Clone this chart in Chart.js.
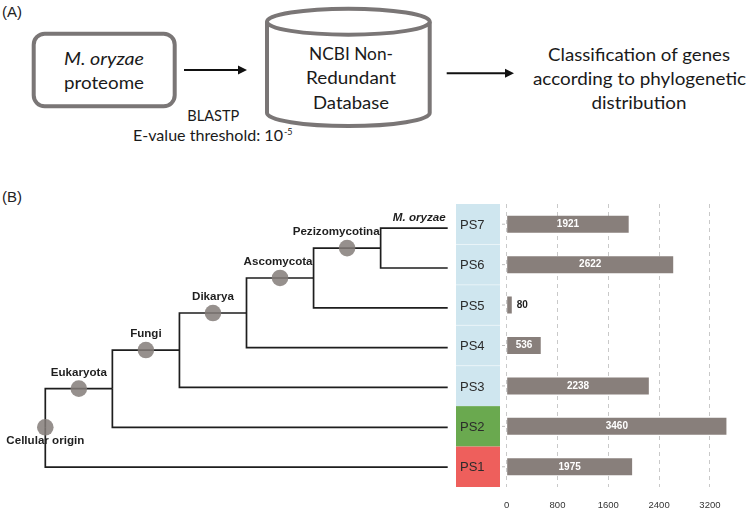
<!DOCTYPE html>
<html>
<head>
<meta charset="utf-8">
<script src="https://cdn.jsdelivr.net/npm/chart.js@4/dist/chart.umd.min.js"></script>
<style>
  body { margin: 0; background: #fff; width: 750px; height: 513px; position: relative; overflow: hidden; }
  #flow { position: absolute; left: 0; top: 0; }
  #treeChart { position: absolute; left: 0; top: 200px; }
  #barChart { position: absolute; left: 456px; top: 200px; }
  .tag { position: absolute; left: 2px; font: 15px "Liberation Sans", Arial, sans-serif; color: #222; }
</style>
</head>
<body>
<div class="tag" style="top:3px">(A)</div>
<div class="tag" style="top:188px">(B)</div>

<svg id="flow" width="750" height="180" font-family="Lato, 'Open Sans', sans-serif" fill="#1a1a1a" font-size="18">
  <!-- proteome box -->
  <rect x="33.7" y="33.7" width="141" height="72.6" rx="11" fill="#fff" stroke="#7a7676" stroke-width="4"/>
  <text x="104" y="65" text-anchor="middle" font-style="italic" textLength="80" lengthAdjust="spacingAndGlyphs">M. oryzae</text>
  <text x="104" y="89" text-anchor="middle" textLength="80" lengthAdjust="spacingAndGlyphs">proteome</text>

  <!-- arrow 1 -->
  <line x1="184" y1="70" x2="240" y2="70" stroke="#111" stroke-width="2"/>
  <polygon points="238,65.5 247,70 238,74.5" fill="#111"/>
  <text x="213.3" y="120.5" text-anchor="middle" font-size="15" textLength="52" lengthAdjust="spacingAndGlyphs">BLASTP</text>
  <text x="133" y="141" font-size="15" textLength="150" lengthAdjust="spacingAndGlyphs">E-value threshold: 10</text>
  <text x="284" y="134.5" font-size="9">-5</text>

  <!-- database cylinder -->
  <path d="M267,21.7 L267,113 A81.35,13 0 0 0 429.7,113 L429.7,21.7" fill="#fff" stroke="#7a7676" stroke-width="4"/>
  <ellipse cx="348.35" cy="21.7" rx="81.35" ry="13" fill="#fff" stroke="#7a7676" stroke-width="4"/>
  <text x="351" y="60" text-anchor="middle" textLength="84" lengthAdjust="spacingAndGlyphs">NCBI Non-</text>
  <text x="351" y="84.3" text-anchor="middle" textLength="90" lengthAdjust="spacingAndGlyphs">Redundant</text>
  <text x="351" y="109" text-anchor="middle" textLength="76" lengthAdjust="spacingAndGlyphs">Database</text>

  <!-- arrow 2 -->
  <line x1="446.7" y1="73.3" x2="507" y2="73.3" stroke="#111" stroke-width="2"/>
  <polygon points="505,68.8 514,73.3 505,77.8" fill="#111"/>

  <text x="639" y="61" text-anchor="middle" textLength="182" lengthAdjust="spacingAndGlyphs">Classification of genes</text>
  <text x="639.5" y="85" text-anchor="middle" textLength="213" lengthAdjust="spacingAndGlyphs">according to phylogenetic</text>
  <text x="639" y="109" text-anchor="middle" textLength="95" lengthAdjust="spacingAndGlyphs">distribution</text>
</svg>

<canvas id="treeChart" width="456" height="313"></canvas>
<canvas id="barChart" width="294" height="313"></canvas>

<script>
// phylostrata, top to bottom
const categories = ["PS7", "PS6", "PS5", "PS4", "PS3", "PS2", "PS1"];
const geneCounts = [1921, 2622, 80, 536, 2238, 3460, 1975];
const valueTicks = [0, 800, 1600, 2400, 3200];

// internal nodes of the tree
const clades = ["Cellular origin", "Eukaryota", "Fungi", "Dikarya", "Ascomycota", "Pezizomycotina"];
const cladeDepth = [0, 1, 2, 3, 4, 5];
const cladeRow = [5.0, 4.03, 3.06, 2.13, 1.25, 0.5];
const cladeParent = [-1, 0, 1, 2, 3, 4];
const leafParent = [5, 5, 4, 3, 2, 1, 0];
const leafDepth = 6;
const speciesName = "M. oryzae";

const bandColors = ["#cfe6ef", "#cfe6ef", "#cfe6ef", "#cfe6ef", "#cfe6ef", "#6aa94f", "#ee5f5c"];
const lineColor = "#1e1e1e";
const labelFont = 'bold 11.6px "Liberation Sans", Arial, sans-serif';

function elbow(pd, py, cd, cy) {
  return [{ x: pd, y: py }, { x: pd, y: cy }, { x: cd, y: cy }];
}

const edgeSets = [];
clades.forEach((name, i) => {
  const p = cladeParent[i];
  if (p < 0) return;
  edgeSets.push(elbow(cladeDepth[p], cladeRow[p], cladeDepth[i], cladeRow[i]));
});
categories.forEach((name, i) => {
  const p = leafParent[i];
  edgeSets.push(elbow(cladeDepth[p], cladeRow[p], leafDepth, i));
});

// circle sits halfway along the branch leading into each clade
const nodePoints = clades.map((name, i) => {
  const p = cladeParent[i];
  const x = p < 0 ? cladeDepth[i] : (cladeDepth[p] + cladeDepth[i]) / 2;
  return { x: x, y: cladeRow[i] };
});

const treeLabels = {
  id: "treeLabels",
  afterDatasetsDraw(chart) {
    const ctx = chart.ctx;
    const xs = chart.scales.x, ys = chart.scales.y;
    ctx.save();
    ctx.fillStyle = "#1f1f1f";
    ctx.font = labelFont;
    ctx.textAlign = "center";
    ctx.textBaseline = "alphabetic";
    clades.forEach((name, i) => {
      const px = xs.getPixelForValue(nodePoints[i].x);
      const py = ys.getPixelForValue(nodePoints[i].y);
      if (cladeParent[i] < 0) {
        ctx.fillText(name, px, py + 17);
        return;
      }
      const w = ctx.measureText(name).width;
      const nodeX = xs.getPixelForValue(cladeDepth[i]);
      const cx = Math.min(px, nodeX - 1 - w / 2);
      ctx.fillText(name, cx, py - 13);
    });
    ctx.font = 'bold italic 11.6px "Liberation Sans", Arial, sans-serif';
    ctx.textAlign = "right";
    ctx.fillText(speciesName, xs.getPixelForValue(leafDepth) - 2, ys.getPixelForValue(0) - 7);
    ctx.restore();
  }
};

const treeDatasets = [{
  data: nodePoints,
  pointRadius: 8.3,
  pointHoverRadius: 8.3,
  backgroundColor: "rgba(132,124,121,0.85)",
  borderWidth: 0,
  clip: false,
  order: 0
}];
edgeSets.forEach(pts => {
  treeDatasets.push({
    data: pts,
    showLine: true,
    borderColor: lineColor,
    borderWidth: 1.7,
    pointRadius: 0,
    tension: 0,
    clip: false,
    order: 1
  });
});

new Chart(document.getElementById("treeChart"), {
  type: "scatter",
  data: { datasets: treeDatasets },
  options: {
    responsive: false,
    animation: false,
    events: [],
    layout: { padding: { left: 45.3, right: 1, top: 4, bottom: 26 } },
    plugins: { legend: { display: false }, tooltip: { enabled: false } },
    scales: {
      x: { type: "linear", min: 0, max: leafDepth, display: false },
      y: { type: "linear", min: -0.5, max: 6.5, reverse: true, display: false }
    }
  },
  plugins: [treeLabels]
});

// coloured phylostratum strip and bar values
const strip = {
  id: "strip",
  beforeDatasetsDraw(chart) {
    const ctx = chart.ctx;
    const area = chart.chartArea;
    const band = (area.bottom - area.top) / categories.length;
    ctx.save();
    categories.forEach((name, i) => {
      const top = area.top + i * band;
      ctx.fillStyle = bandColors[i];
      ctx.fillRect(0, top, 44, band);
      if (i > 0 && bandColors[i] === bandColors[i - 1]) {
        ctx.fillStyle = "rgba(255,255,255,0.45)";
        ctx.fillRect(0, top - 0.5, 44, 1);
      }
      ctx.fillStyle = "#bdbdbd";
      ctx.fillRect(46, top + band / 2 - 0.5, 3, 1);
      ctx.fillStyle = "#2b2b2b";
      ctx.font = '13px "Liberation Sans", Arial, sans-serif';
      ctx.textAlign = "left";
      ctx.textBaseline = "middle";
      ctx.fillText(name, 4, top + band / 2 + 1);
    });
    ctx.restore();
  },
  afterDatasetsDraw(chart) {
    const ctx = chart.ctx;
    const meta = chart.getDatasetMeta(0);
    ctx.save();
    ctx.font = 'bold 10px "Liberation Sans", Arial, sans-serif';
    ctx.textBaseline = "middle";
    meta.data.forEach((bar, i) => {
      const txt = String(geneCounts[i]);
      if (bar.x - bar.base > 24) {
        ctx.fillStyle = "#ffffff";
        ctx.textAlign = "center";
        ctx.fillText(txt, (bar.x + bar.base) / 2, bar.y);
      } else {
        ctx.fillStyle = "#1f1f1f";
        ctx.textAlign = "left";
        ctx.fillText(txt, bar.x + 5, bar.y);
      }
    });
    ctx.restore();
  }
};

new Chart(document.getElementById("barChart"), {
  type: "bar",
  data: {
    labels: categories,
    datasets: [{
      data: geneCounts,
      backgroundColor: "#887f7b",
      barPercentage: 0.42,
      categoryPercentage: 1
    }]
  },
  options: {
    indexAxis: "y",
    responsive: false,
    animation: false,
    events: [],
    layout: { padding: { left: 50.7, right: 9.6, top: 4, bottom: 0 } },
    plugins: { legend: { display: false }, tooltip: { enabled: false } },
    scales: {
      y: { display: false },
      x: {
        min: 0,
        max: 3680,
        afterBuildTicks: s => { s.ticks = valueTicks.map(v => ({ value: v })); },
        afterFit: s => { s.height = 26; },
        grid: { color: "#c9c9c9", lineWidth: 1, drawTicks: false },
        border: { display: false, dash: [4, 4] },
        ticks: {
          padding: 13,
          color: "#333",
          callback: v => String(v),
          font: { family: '"Liberation Sans", Arial, sans-serif', size: 9.5 },
          maxRotation: 0
        }
      }
    }
  },
  plugins: [strip]
});
</script>
</body>
</html>
